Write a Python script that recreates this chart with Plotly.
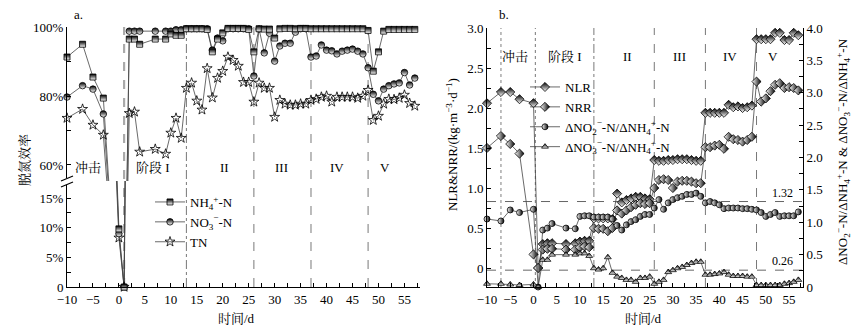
import plotly.graph_objects as go

W, H = 860, 334
FONT = "Liberation Serif, Noto Serif CJK SC, Noto Sans CJK SC, serif"

# ---------------- data ----------------
days = [-10, -7, -5, -3, 0, 1, 2, 3, 4, 7, 9, 10, 11, 12,
        13, 14, 15, 16, 17, 18, 19, 20, 21, 22, 23, 24, 25,
        26, 27, 28, 29, 30, 31, 32, 33, 34, 35, 36,
        37, 38, 39, 40, 41, 42, 43, 44, 45, 46, 47,
        48, 49, 50, 51, 52, 53, 54, 55, 56, 57]

# panel a: removal efficiency (%)
nh4_eff = [91.3, 95.0, 85.5, 79.4, 9.8, 0, 96.5, 96.5, 95.0, 96.5, 96.5, 98.0, 97.6, 97.6,
           99.5, 99.5, 99.5, 99.5, 99.3, 92.8, 96.5, 98.3, 99.6, 99.6, 99.6, 99.6, 99.3,
           92.8, 99.5, 99.4, 99.4, 96.8, 99.5, 99.6, 99.6, 99.5, 99.6, 99.6,
           99.5, 99.5, 99.5, 99.5, 99.5, 99.5, 99.5, 99.5, 99.5, 99.5, 99.5,
           99.0, 87.2, 92.8, 98.8, 99.3, 99.3, 99.3, 99.3, 99.3, 99.3]
no3_eff = [79.7, 83.0, 82.0, 74.8, 9.0, 0, 98.8, 98.8, 98.8, 98.8, 98.8, 98.8, 99.2, 99.2,
           99.5, 99.5, 99.5, 99.5, 99.5, 93.3, 96.8, 96.0, 99.5, 99.5, 99.5, 99.5, 99.5,
           85.8, 99.4, 92.5, 98.2, 90.1, 94.5, 95.3, 95.3, 98.5, 99.5, 99.5,
           91.3, 91.6, 94.8, 93.3, 93.1, 92.2, 93.0, 93.3, 93.6, 93.0, 92.2,
           88.2, 80.5, 78.6, 82.0, 83.0, 83.5, 83.8, 86.8, 83.2, 85.2]
tn_eff = [73.6, 76.2, 71.6, 68.7, 8.3, 0, 75.0, 75.4, 63.8, 64.6, 63.2, 69.3, 73.6, 67.8,
          82.3, 83.8, 78.6, 76.0, 88.0, 79.5, 85.2, 87.2, 91.3, 90.4, 88.7, 84.0, 84.0,
          78.3, 83.8, 82.3, 82.3, 73.9, 78.8, 77.7, 77.4, 77.4, 77.7, 77.7,
          78.8, 79.1, 79.7, 80.0, 78.3, 79.7, 79.7, 79.7, 79.7, 79.4, 80.0,
          81.7, 73.0, 74.2, 77.7, 79.1, 79.0, 79.4, 80.3, 77.9, 77.1]

# panel b: loading / removal rates (left axis) and ratios (right axis)
nlr = [2.06, 2.20, 2.20, 2.11, 2.06, 0, 0.30, 0.31, 0.31, 0.30, 0.31, 0.33, 0.34, 0.34,
       0.62, 0.62, 0.62, 0.62, 0.61, 0.93, 0.82, 0.85, 0.87, 0.89, 0.89, 0.87, 0.86,
       1.35, 1.34, 1.34, 1.35, 1.35, 1.36, 1.36, 1.36, 1.35, 1.34, 1.34,
       1.94, 1.94, 1.94, 1.94, 1.94, 2.04, 2.01, 2.02, 2.00, 2.01, 2.03,
       2.86, 2.86, 2.86, 2.86, 2.94, 2.94, 2.85, 2.85, 2.94, 2.91]
nrr = [1.50, 1.65, 1.55, 1.43, 0.17, 0, 0.23, 0.24, 0.24, 0.23, 0.23, 0.26, 0.27, 0.26,
       0.50, 0.49, 0.49, 0.46, 0.50, 0.72, 0.68, 0.72, 0.76, 0.79, 0.81, 0.80, 0.81,
       1.00, 1.10, 1.11, 1.10, 1.00, 1.08, 1.09, 1.09, 1.08, 1.06, 1.06,
       1.51, 1.51, 1.53, 1.54, 1.49, 1.64, 1.61, 1.60, 1.58, 1.60, 1.64,
       2.33, 2.08, 2.12, 2.21, 2.29, 2.31, 2.25, 2.26, 2.25, 2.22]
ratio_no2 = [1.05, 1.02, 1.19, 1.15, 1.20, 0, 0.88, 0.91, 0.98, 0.91, 0.90, 1.09, 1.10, 1.10,
             1.08, 1.08, 1.08, 1.08, 1.05, 0.95, 0.88, 0.96, 1.01, 1.04, 1.09, 1.12, 1.12,
             1.22, 1.35, 1.20, 1.30, 1.35, 1.38, 1.40, 1.43, 1.43, 1.45, 1.40,
             1.30, 1.32, 1.30, 1.27, 1.21, 1.22, 1.22, 1.22, 1.21, 1.21, 1.20,
             1.19, 1.15, 1.09, 1.12, 1.15, 1.09, 1.10, 1.10, 1.10, 1.16]
ratio_no3 = [0.05, 0.05, 0.04, 0.03, 0.04, 0, 0.42, 0.42, 0.50, 0.50, 0.50, 0.52, 0.52, 0.48,
             0.29, 0.27, 0.29, 0.46, 0.22, 0.16, 0.14, 0.11, 0.11, 0.08, 0.14, 0.14, 0.16,
             0.05, 0.08, 0.11, 0.23, 0.26, 0.29, 0.31, 0.34, 0.37, 0.39, 0.39,
             0.19, 0.19, 0.20, 0.21, 0.23, 0.19, 0.17, 0.17, 0.17, 0.16, 0.16,
             0.03, 0.03, 0.03, 0.03, 0.03, 0.03, 0.05, 0.06, 0.08, 0.11]

stage_days_a = [1, 13, 26, 37, 48]
stage_days_b = [-7, 0.4, 13, 26, 37, 48]
ref_ratios = [1.32, 0.26]

labels_a = ["冲击", "阶段 I", "II", "III", "IV", "V"]
label_x_a = [-6, 6.6, 20.4, 31.4, 42, 51.3]
labels_b = ["冲击", "阶段 I", "II", "III", "IV", "V"]
label_x_b = [-4, 6.8, 20.3, 31.5, 42.3, 51.5]

# ---------------- helpers ----------------
def px(x):
    return x / W

def py(y):
    return 1 - y / H

UP_LO, UP_HI = 55.36, 100.0
LO_LO, LO_HI = 0.0, 17.87

LINE = dict(color="#444", width=0.8)

def half_marker(symbol, size, vertical=True):
    if vertical:
        return dict(symbol=symbol, size=size, color="black",
                    gradient=dict(type="vertical", color="white"),
                    line=dict(color="black", width=0.8))
    return dict(symbol=symbol, size=size, color="white",
                gradient=dict(type="horizontal", color="black"),
                line=dict(color="black", width=0.8))

fig = go.Figure()

series_a = [
    ("NH<sub>4</sub><sup>+</sup>-N", nh4_eff, half_marker("square", 6)),
    ("NO<sub>3</sub><sup>−</sup>-N", no3_eff, half_marker("circle", 6.5)),
    ("TN", tn_eff, dict(symbol="star-open", size=7.5, color="black",
                        line=dict(color="black", width=0.8))),
]

# lines in both parts of the broken axis
for name, vals, mk in series_a:
    for ya in ("y", "y2"):
        fig.add_trace(go.Scatter(x=days, y=vals, xaxis="x", yaxis=ya, mode="lines",
                                 line=LINE, showlegend=False, hoverinfo="skip"))
# markers, only in the part where they fall
for name, vals, mk in reversed(series_a):
    xu = [d for d, v in zip(days, vals) if v >= UP_LO]
    yu = [v for v in vals if v >= UP_LO]
    xl = [d for d, v in zip(days, vals) if v <= LO_HI]
    yl = [v for v in vals if v <= LO_HI]
    fig.add_trace(go.Scatter(x=xu, y=yu, xaxis="x", yaxis="y", mode="markers",
                             marker=mk, cliponaxis=False, showlegend=False))
    fig.add_trace(go.Scatter(x=xl, y=yl, xaxis="x", yaxis="y2", mode="markers",
                             marker=mk, cliponaxis=False, showlegend=False))
for name, vals, mk in series_a:
    fig.add_trace(go.Scatter(x=[None], y=[None], xaxis="x", yaxis="y", mode="lines+markers",
                             name=name, marker=mk, line=LINE, legend="legend"))

series_b = [
    ("NLR", nlr, "y3", half_marker("diamond", 7)),
    ("NRR", nrr, "y3", half_marker("diamond", 7, vertical=False)),
    ("ΔNO<sub>2</sub><sup>−</sup>-N/ΔNH<sub>4</sub><sup>+</sup>-N", ratio_no2, "y4",
     half_marker("circle", 6, vertical=False)),
    ("ΔNO<sub>3</sub><sup>−</sup>-N/ΔNH<sub>4</sub><sup>+</sup>-N", ratio_no3, "y4",
     half_marker("triangle-up", 6)),
]
for name, vals, ya, mk in series_b:
    fig.add_trace(go.Scatter(x=days, y=vals, xaxis="x2", yaxis=ya, mode="lines+markers",
                             name=name, marker=mk, line=LINE, cliponaxis=False,
                             legend="legend2"))

# ---------------- axes ----------------
tickfont = dict(family=FONT, size=13, color="black")
common = dict(showgrid=False, zeroline=False, showline=True, linecolor="black",
              linewidth=1, ticks="inside", ticklen=4, tickcolor="black", tickwidth=1,
              tickfont=tickfont, automargin=False)

fig.update_layout(
    template="none",
    width=W, height=H, margin=dict(l=0, r=0, t=0, b=0, autoexpand=False),
    paper_bgcolor="white", plot_bgcolor="rgba(0,0,0,0)",
    font=dict(family=FONT, size=13, color="black"),
    xaxis=dict(domain=[px(67), px(420)], range=[-10, 58], anchor="y2",
               tick0=0, dtick=5,
               minor=dict(ticks="inside", ticklen=4, dtick=2.5, tick0=0, tickcolor="black"),
               **common),
    yaxis=dict(domain=[py(181), py(27)], range=[UP_LO, UP_HI], anchor="x",
               tick0=0, dtick=20, ticksuffix="%",
               minor=dict(ticks="inside", ticklen=4, dtick=10, tick0=0, tickcolor="black"),
               **common),
    yaxis2=dict(domain=[py(287), py(181)], range=[LO_LO, LO_HI], anchor="x",
                tickmode="array", tickvals=[0, 5, 10, 15], ticktext=["0", "5%", "10%", "15%"],
                minor=dict(ticks="inside", ticklen=4, tickmode="array",
                           tickvals=[2.5, 7.5, 12.5, 17.5], tickcolor="black"),
                **common),
    xaxis2=dict(domain=[px(487), px(803)], range=[-10, 58], anchor="y3",
                tick0=0, dtick=5,
                minor=dict(ticks="inside", ticklen=4, dtick=2.5, tick0=0, tickcolor="black"),
                **common),
    yaxis3=dict(domain=[py(287), py(28)], range=[-0.2375, 3.0], anchor="x2",
                tickmode="array", tickvals=[0, 0.5, 1, 1.5, 2, 2.5, 3],
                ticktext=["0", "0.5", "1.0", "1.5", "2.0", "2.5", "3.0"],
                minor=dict(ticks="inside", ticklen=4, tickmode="array",
                           tickvals=[0.25, 0.75, 1.25, 1.75, 2.25, 2.75], tickcolor="black"),
                **common),
    yaxis4=dict(overlaying="y3", side="right", range=[0, 4.0], anchor="x2",
                tickmode="array", tickvals=[0, 0.5, 1, 1.5, 2, 2.5, 3, 3.5, 4],
                ticktext=["0", "0.5", "1.0", "1.5", "2.0", "2.5", "3.0", "3.5", "4.0"],
                minor=dict(ticks="inside", ticklen=4, tickmode="array",
                           tickvals=[0.25, 0.75, 1.25, 1.75, 2.25, 2.75, 3.25, 3.75],
                           tickcolor="black"),
                **common),
    legend=dict(x=px(150), y=py(187), xanchor="left", yanchor="top",
                bgcolor="rgba(0,0,0,0)", font=dict(family=FONT, size=13),
                itemwidth=30, tracegroupgap=0),
    legend2=dict(x=px(525), y=py(72), xanchor="left", yanchor="top",
                 bgcolor="rgba(0,0,0,0)", font=dict(family=FONT, size=13),
                 itemwidth=30, tracegroupgap=0),
)

# ---------------- reference lines ----------------
shapes = []
for i, d in enumerate(stage_days_a):
    if i == 0:
        st = dict(color="#aaa", width=2.2, dash="dash")
    elif i == 1:
        st = dict(color="#555", width=0.8, dash="dashdot")
    else:
        st = dict(color="#555", width=0.8, dash="dash")
    shapes.append(dict(type="line", xref="x", yref="paper", x0=d, x1=d,
                       y0=py(287), y1=py(27), line=st, layer="below"))
for i, d in enumerate(stage_days_b):
    if i == 0:
        st = dict(color="#aaa", width=1.5, dash="dot")
    elif i == 1:
        st = dict(color="#777", width=1, dash="dot")
    elif i == 2:
        st = dict(color="#555", width=0.8, dash="dashdot")
    else:
        st = dict(color="#555", width=0.8, dash="dash")
    shapes.append(dict(type="line", xref="x2", yref="paper", x0=d, x1=d,
                       y0=py(287), y1=py(28), line=st, layer="below"))
for r in ref_ratios:
    shapes.append(dict(type="line", xref="x2 domain", yref="y4", x0=0, x1=1, y0=r, y1=r,
                       line=dict(color="#666", width=1, dash="dash"), layer="below"))
# axis break marks
shapes.append(dict(type="rect", xref="paper", yref="paper", x0=px(60), x1=px(74),
                   y0=py(185), y1=py(178), fillcolor="white", line=dict(width=0), layer="above"))
shapes.append(dict(type="line", xref="paper", yref="paper", x0=px(61), x1=px(73),
                   y0=py(181), y1=py(176), line=dict(color="black", width=1.2)))
shapes.append(dict(type="line", xref="paper", yref="paper", x0=px(61), x1=px(73),
                   y0=py(187), y1=py(182), line=dict(color="black", width=1.2)))
fig.update_layout(shapes=shapes)

# ---------------- text ----------------
def txt(text, x, y, xref="paper", yref="paper", size=13, angle=0, xanchor="center"):
    return dict(text=text, x=x, y=y, xref=xref, yref=yref, showarrow=False,
                xanchor=xanchor, yanchor="middle", textangle=angle,
                font=dict(family=FONT, size=size, color="black"))

ann = []
for t, x in zip(labels_a, label_x_a):
    ann.append(txt(t, x, py(167), xref="x"))
for t, x in zip(labels_b, label_x_b):
    ann.append(txt(t, x, py(56), xref="x2"))
for r in ref_ratios:
    a = txt(f"{r:.2f}", 56.3, r, xref="x2", yref="y4", size=12, xanchor="right")
    a["yanchor"] = "bottom"
    ann.append(a)
ann += [
    txt("a.", px(78), py(14)),
    txt("b.", px(504), py(14)),
    txt("脱氮效率", px(24), py(160), angle=-90),
    txt("NLR&NRR/(kg·m<sup>−3</sup>·d<sup>−1</sup>)", px(452), py(145), angle=-90),
    txt("ΔNO<sub>2</sub><sup>−</sup>-N/ΔNH<sub>4</sub><sup>+</sup>-N &amp; "
        "ΔNO<sub>3</sub><sup>−</sup>-N/ΔNH<sub>4</sub><sup>+</sup>-N",
        px(843), py(152), angle=-90),
    txt("时间/d", px(236), py(318)),
    txt("时间/d", px(643), py(318)),
]
fig.update_layout(annotations=ann)

fig.write_html("out.html")
